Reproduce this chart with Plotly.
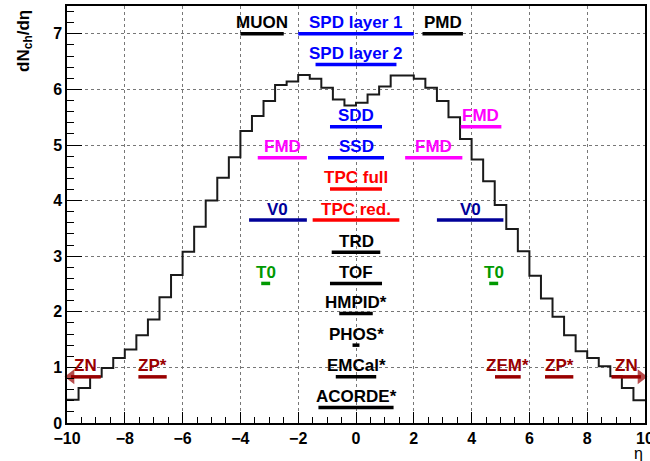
import plotly.graph_objects as go

# ---------------- data ----------------
eta_start = -10.0
bin_width = 0.4
dndeta = [0.42, 0.63, 0.83, 0.99, 1.17, 1.32, 1.58, 1.86, 2.26, 2.66,
          3.08, 3.53, 4.00, 4.41, 4.78, 5.25, 5.52, 5.79, 6.08, 6.14,
          6.26, 6.19, 6.03, 5.82, 5.71, 5.76, 5.91, 6.05, 6.25, 6.25,
          6.19, 6.03, 5.79, 5.50, 5.11, 4.74, 4.35, 3.92, 3.49, 3.09,
          2.65, 2.24, 1.91, 1.58, 1.29, 1.17, 1.02, 0.84, 0.63, 0.41]

det_names = ["MUON", "SPD layer 1", "PMD", "SPD layer 2", "SDD", "FMD",
             "FMD", "SSD", "FMD", "TPC full", "V0", "TPC red.", "V0",
             "TRD", "T0", "TOF", "T0", "HMPID*", "PHOS*", "ZP*", "EMCal*",
             "ZEM*", "ZP*", "ACORDE*"]
det_eta_min = [-4.0, -2.0, 2.3, -1.4, -0.9, 3.62,
               -3.4, -0.97, 1.7, -0.9, -3.7, -1.5, 2.8,
               -0.84, -3.28, -0.9, 4.61, -0.58, -0.12, -7.53, -0.7,
               4.81, 6.54, -1.3]
det_eta_max = [-2.5, 2.0, 3.7, 1.4, 0.9, 5.03,
               -1.7, 0.97, 3.68, 0.9, -1.7, 1.5, 5.1,
               0.84, -2.97, 0.9, 4.92, 0.58, 0.12, -6.55, 0.7,
               5.7, 7.52, 1.3]
det_level = [7.0, 7.0, 7.0, 6.45, 5.33, 5.33,
             4.77, 4.77, 4.77, 4.21, 3.65, 3.65, 3.65,
             3.07, 2.51, 2.51, 2.51, 1.97, 1.40, 0.83, 0.83,
             0.83, 0.83, 0.28]
det_color = ["#000000", "#0000ff", "#000000", "#0000ff", "#0000ff", "#ff00ff",
             "#ff00ff", "#0000ff", "#ff00ff", "#ff0000", "#000099", "#ff0000", "#000099",
             "#000000", "#009900", "#000000", "#009900", "#000000", "#000000", "#990000", "#000000",
             "#990000", "#990000", "#000000"]

# ZN arrows (tail, head centre)
arrow_names = ["ZN", "ZN"]
arrow_tail = [-8.83, 8.84]
arrow_head = [-9.86, 9.86]
arrow_symbol = ["triangle-left", "triangle-right"]
arrow_level = [0.83, 0.83]
arrow_color = ["#990000", "#990000"]

FONT = "Liberation Sans"

# ---------------- figure ----------------
fig = go.Figure()

edges = [eta_start + bin_width * i for i in range(len(dndeta) + 1)]
fig.add_trace(go.Scatter(
    x=edges, y=dndeta + [dndeta[-1]], mode="lines", line_shape="hv",
    line=dict(color="#1a1a1a", width=2), hoverinfo="skip", showlegend=False))

annotations = []
for n, a, b, lv, c in zip(det_names, det_eta_min, det_eta_max, det_level, det_color):
    fig.add_trace(go.Scatter(x=[a, b], y=[lv, lv], mode="lines",
                             line=dict(color=c, width=3.5), showlegend=False,
                             hoverinfo="skip"))
    annotations.append(dict(x=(a + b) / 2, y=lv, xref="x", yref="y", text=n,
                            showarrow=False, yanchor="middle", yshift=11,
                            font=dict(family=FONT, size=17, color=c, weight="bold")))

for n, t, h, s, lv, c in zip(arrow_names, arrow_tail, arrow_head, arrow_symbol,
                             arrow_level, arrow_color):
    fig.add_trace(go.Scatter(x=[t, h], y=[lv, lv], mode="lines+markers",
                             line=dict(color=c, width=3.5),
                             marker=dict(symbol=["circle", s], size=[0, 13], color=c,
                                         line=dict(width=0)),
                             cliponaxis=False, showlegend=False, hoverinfo="skip"))
    annotations.append(dict(x=(t + h) / 2, y=lv, xref="x", yref="y", text=n,
                            showarrow=False, yanchor="middle", yshift=11,
                            font=dict(family=FONT, size=17, color=c, weight="bold")))

# axis titles
annotations.append(dict(x=-0.073, y=0.995, xref="paper", yref="paper",
                        text="dN<sub>ch</sub>/dη", textangle=-90, showarrow=False,
                        xanchor="center", yanchor="top",
                        font=dict(family=FONT, size=17, color="black", weight="bold")))
annotations.append(dict(x=0.988, y=-0.072, xref="paper", yref="paper",
                        text="η", showarrow=False, xanchor="center", yanchor="middle",
                        font=dict(family=FONT, size=16, color="black")))

axis_common = dict(showline=True, linecolor="black", linewidth=1.5, mirror=True,
                   zeroline=False, showgrid=True, gridcolor="#777777",
                   griddash="dot", gridwidth=1, ticks="inside", tickcolor="black",
                   tickwidth=1, ticklabeloverflow="allow", automargin=False,
                   tickfont=dict(family=FONT, size=16, color="black", weight="bold"))

fig.update_layout(
    width=650, height=461,
    margin=dict(l=67, r=5, t=6, b=38, autoexpand=False),
    plot_bgcolor="white", paper_bgcolor="white",
    xaxis=dict(range=[-10, 10], tick0=0, dtick=2, ticklen=11,
               minor=dict(dtick=0.5, ticks="inside", ticklen=6, tickcolor="black",
                          showgrid=False),
               **axis_common),
    yaxis=dict(range=[0, 7.5], tick0=0, dtick=1, ticklen=15,
               minor=dict(dtick=0.2, ticks="inside", ticklen=7.5, tickcolor="black",
                          showgrid=False),
               **axis_common),
    annotations=annotations,
)

fig.write_html("out.html")
